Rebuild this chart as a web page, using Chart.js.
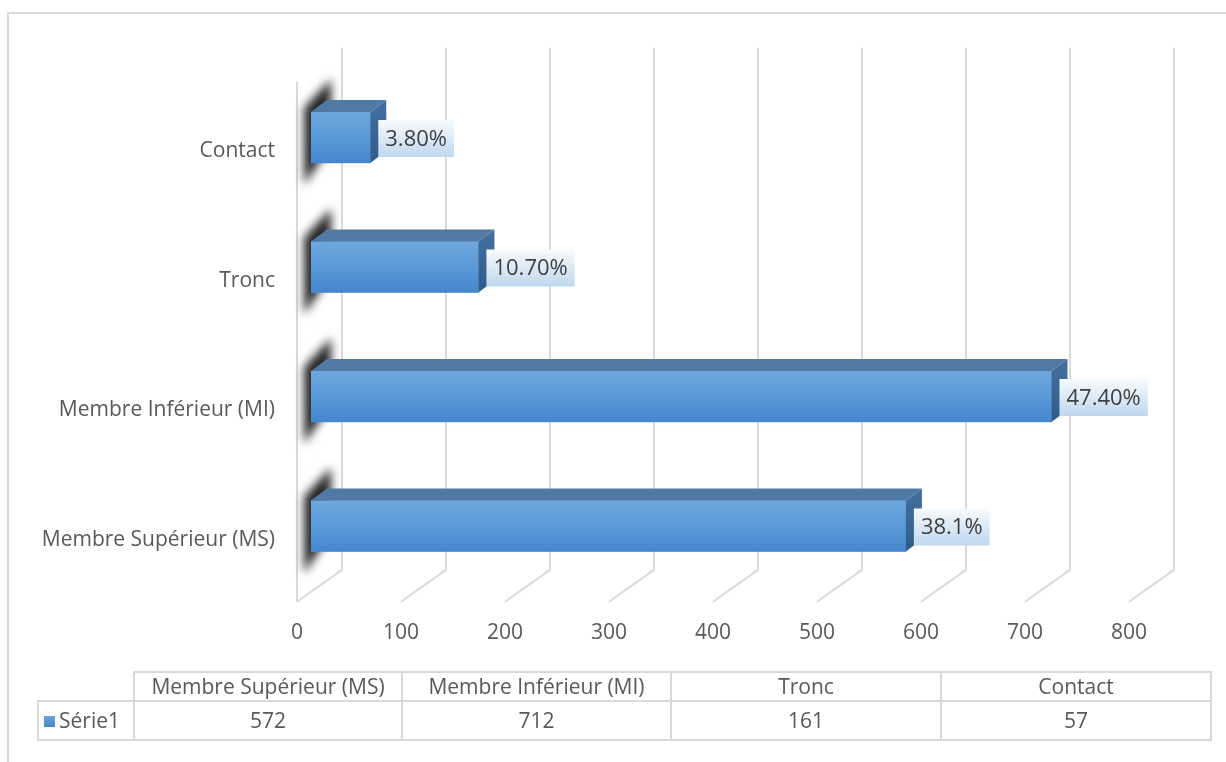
<!DOCTYPE html>
<html><head><meta charset="utf-8">
<script src="https://cdn.jsdelivr.net/npm/chart.js@4.4.0/dist/chart.umd.min.js"></script>
<style>
html,body{margin:0;padding:0;background:#fff;overflow:hidden;width:1226px;height:762px;}
#frame{position:absolute;left:7px;top:12px;width:1300px;height:800px;border:2px solid #d9d9d9;box-sizing:border-box;}
#wrap{position:absolute;left:0;top:0;width:1226px;height:762px;}
#tbl{position:absolute;left:37px;top:671px;border-collapse:collapse;font-family:'Open Sans',sans-serif;font-size:21px;color:#595959;table-layout:fixed;}
#tbl td{border:2px solid #d9d9d9;text-align:center;padding:0;white-space:nowrap;line-height:1;}
#tbl tr.h td{height:27px;}
#tbl tr.d td{height:37px;}
#tbl td.blank{border-top:none;border-left:none;}
#tbl td.key{text-align:left;padding-left:5px;}
.sw{display:inline-block;width:11px;height:11px;background:linear-gradient(#6ca6de,#4585cc);margin-right:4px;vertical-align:1px;}
</style></head><body>
<div id="frame"></div>
<div id="wrap"><canvas id="c" width="1226" height="762"></canvas></div>
<table id="tbl"></table>
<script>
const categories = ["Membre Supérieur (MS)", "Membre Inférieur (MI)", "Tronc", "Contact"];
const values = [572, 712, 161, 57];
const percentLabels = ["38.1%", "47.40%", "10.70%", "3.80%"];
const xTicks = [0, 100, 200, 300, 400, 500, 600, 700, 800];
const seriesName = "Série1";
const FONT = "'Open Sans'";

// data table built from the arrays
(function(){
  const t = document.getElementById('tbl');
  const widths = [96, 268, 269, 270, 270];
  const cg = document.createElement('colgroup');
  widths.forEach(w => { const c = document.createElement('col'); c.style.width = w + 'px'; cg.appendChild(c); });
  t.appendChild(cg);
  const r1 = document.createElement('tr'); r1.className = 'h';
  const b = document.createElement('td'); b.className = 'blank'; r1.appendChild(b);
  categories.forEach(c => { const td = document.createElement('td'); td.textContent = c; r1.appendChild(td); });
  const r2 = document.createElement('tr'); r2.className = 'd';
  const k = document.createElement('td'); k.className = 'key';
  k.innerHTML = '<span class="sw"></span>'; k.appendChild(document.createTextNode(seriesName)); r2.appendChild(k);
  values.forEach(v => { const td = document.createElement('td'); td.textContent = v; r2.appendChild(td); });
  t.appendChild(r1); t.appendChild(r2);
})();

const DX = 16, DY = -12; // bar depth
const deco = {
  id: 'deco',
  beforeDatasetsDraw(chart) {
    const {ctx, chartArea: a, scales: {x}} = chart;
    const meta = chart.getDatasetMeta(0);
    ctx.save();
    ctx.strokeStyle = '#d9d9d9'; ctx.lineWidth = 2;
    const backTop = a.top - 25, backBot = a.bottom - 21, frontBot = a.bottom + 11;
    xTicks.forEach(v => {
      const p = x.getPixelForValue(v);
      ctx.beginPath();
      ctx.moveTo(p + 31, backTop); ctx.lineTo(p + 31, backBot); ctx.lineTo(p - 14, frontBot);
      ctx.stroke();
    });
    const p0 = x.getPixelForValue(0);
    ctx.beginPath(); ctx.moveTo(p0 - 14, a.top + 9); ctx.lineTo(p0 - 14, frontBot); ctx.stroke();
    ctx.filter = 'blur(5px)';
    ctx.fillStyle = 'rgba(20,20,20,0.92)';
    meta.data.forEach(bar => {
      const t = bar.y - bar.height / 2, b = bar.y + bar.height / 2;
      ctx.beginPath();
      ctx.moveTo(p0 - 7, t - 4); ctx.lineTo(p0 + 20, t - 33);
      ctx.lineTo(p0 + 20, b - 18); ctx.lineTo(p0 - 7, b + 22); ctx.closePath(); ctx.fill();
    });
    ctx.restore();
  },
  afterDatasetsDraw(chart) {
    const {ctx, scales: {x}} = chart;
    const meta = chart.getDatasetMeta(0);
    ctx.save();
    meta.data.forEach((bar, i) => {
      const t = bar.y - bar.height / 2, b = bar.y + bar.height / 2;
      const l = bar.base, r = bar.x;
      const g = ctx.createLinearGradient(0, t, 0, b);
      g.addColorStop(0, '#6fa8de'); g.addColorStop(0.5, '#5a9ad8'); g.addColorStop(1, '#4486cc');
      ctx.fillStyle = g; ctx.fillRect(l, t, r - l, b - t);
      ctx.fillStyle = '#5079a4';
      ctx.beginPath(); ctx.moveTo(l, t); ctx.lineTo(l + DX, t + DY); ctx.lineTo(r + DX, t + DY); ctx.lineTo(r, t); ctx.closePath(); ctx.fill();
      const gs = ctx.createLinearGradient(0, t, 0, b);
      gs.addColorStop(0, '#416d9c'); gs.addColorStop(1, '#2f5b8b');
      ctx.fillStyle = gs;
      ctx.beginPath(); ctx.moveTo(r, t); ctx.lineTo(r + DX, t + DY); ctx.lineTo(r + DX, b + DY); ctx.lineTo(r, b); ctx.closePath(); ctx.fill();
      ctx.font = '22px ' + FONT;
      const txt = percentLabels[i];
      const w = ctx.measureText(txt).width + 14, h = 37;
      const bx = r + 8, by = bar.y + 1 - h / 2;
      const gl = ctx.createLinearGradient(0, by, 0, by + h);
      gl.addColorStop(0, '#f7fbfe'); gl.addColorStop(1, '#bfd7ef');
      ctx.fillStyle = gl; ctx.fillRect(bx, by, w, h);
      ctx.fillStyle = '#404040'; ctx.textBaseline = 'middle'; ctx.textAlign = 'left';
      ctx.fillText(txt, bx + 7, by + h / 2 + 1);
    });
    ctx.restore();
  }
};

new Chart(document.getElementById('c'), {
  type: 'bar',
  data: {
    labels: categories,
    datasets: [{ label: seriesName, data: values, backgroundColor: '#5b9bd5', borderWidth: 0, barThickness: 51 }]
  },
  options: {
    indexAxis: 'y',
    responsive: false,
    animation: false,
    layout: { padding: { top: 72.75, right: 83, bottom: 100, left: 0 } },
    plugins: { legend: { display: false }, tooltip: { enabled: false } },
    scales: {
      x: {
        min: 0, max: 800,
        afterBuildTicks: s => { s.ticks = xTicks.map(v => ({ value: v })); },
        afterFit: s => { s.height = 71.25; },
        grid: { display: false, drawTicks: false },
        border: { display: false },
        ticks: { color: '#595959', font: { family: FONT, size: 21 }, padding: 30, labelOffset: -14, maxRotation: 0 }
      },
      y: {
        reverse: true,
        afterFit: s => { s.width = 311; },
        grid: { display: false, drawTicks: false },
        border: { display: false },
        ticks: { color: '#595959', font: { family: FONT, size: 21 }, padding: 36, labelOffset: 14 }
      }
    }
  },
  plugins: [deco]
});
</script>
</body></html>
